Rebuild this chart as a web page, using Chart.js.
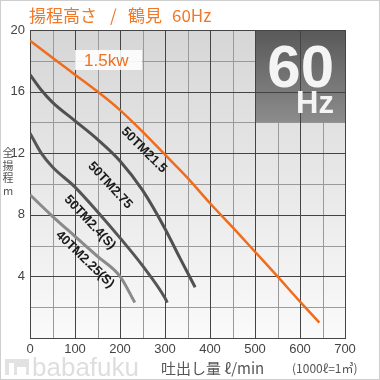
<!DOCTYPE html>
<html><head><meta charset="utf-8">
<script src="https://cdn.jsdelivr.net/npm/chart.js@4/dist/chart.umd.min.js"></script>
<style>html,body{margin:0;padding:0;background:#fff}canvas{display:block}</style>
</head><body>
<canvas id="c" width="380" height="380"></canvas>
<script>
// ---- data ----
const xTickLabels = [0,100,200,300,400,500,600,700];
const yTickLabels = [4,8,12,16,20];
const seriesNames = ['50TM21.5','50TM2.75','50TM2.4(S)','40TM2.25(S)'];
const flow21_5 = [0,50,100,150,200,250,300,350,400,450,500,550,600,643];
const head21_5 = [19.3,18.2,17.1,16.0,14.8,13.4,11.9,10.4,8.75,7.2,5.6,4.0,2.36,1.0];
const flow2_75 = [0,25,50,100,150,200,250,300,333,367];
const head2_75 = [17.1,16.1,15.3,14.1,12.9,11.5,9.6,7.1,5.2,3.3];
const flow2_4 = [0,25,50,100,150,200,250,300,305];
const head2_4 = [13.3,12.0,11.1,9.8,8.2,6.5,4.7,2.6,2.3];
const flow2_25 = [0,50,100,150,200,233];
const head2_25 = [9.3,7.9,6.6,5.3,4.0,2.3];
const titleParts = ['揚程高さ','/','鶴見','60Hz'];
const powerText = '1.5kw';
const freqText = ['60','Hz'];
const xTitle = '吐出し量 ℓ/min';
const xNote = '(1000ℓ=1㎥)';
const yTitle = ['全','揚','程','m'];

function pts(xs, ys){ return xs.map((x,i)=>({x:x, y:ys[i]})); }

const labelCfg = [
  {x:253, y:12.2, a:45},
  {x:178, y:9.9, a:47},
  {x:133, y:7.5, a:47},
  {x:122, y:5.1, a:44}
];
const titleX = [29,110,128,172];

function vline(ctx, x, y0, y1, w){ ctx.fillRect(Math.round(x), Math.round(y0), w, Math.round(y1-y0)+1); }
function hline(ctx, y, x0, x1, w){ ctx.fillRect(Math.round(x0), Math.round(y), Math.round(x1-x0)+1, w); }

function gridVals(min, max, step){ const v=[]; for(let t=min;t<=max+1e-9;t+=step) v.push(t); return v; }

function drawGrid(chart, major, y0, y1, x0, x1){
  const {ctx, chartArea:a} = chart;
  const xs = chart.scales.x, ys = chart.scales.y;
  const top = y0 ?? a.top, bottom = y1 ?? a.bottom, left = x0 ?? a.left, right = x1 ?? a.right;
  ctx.save();
  ctx.globalCompositeOperation = 'source-over';
  ctx.globalAlpha = 1;
  ctx.fillStyle = major ? '#444444' : '#9a9a9a';
  const w = 1;
  gridVals(xs.min, xs.max, 50).forEach(v=>{
    if ((v % 100 === 0) !== major) return;
    vline(ctx, xs.getPixelForValue(v), top, bottom, w);
  });
  gridVals(ys.min, ys.max, 2).forEach(v=>{
    if ((v % 4 === 0) !== major) return;
    hline(ctx, ys.getPixelForValue(v), left, right, w);
  });
  ctx.restore();
}

const deco = {
  id:'deco',
  beforeDraw(chart){
    const {ctx, chartArea:a} = chart;
    ctx.save();
    ctx.globalCompositeOperation = 'source-over';
    ctx.globalAlpha = 1;
    ctx.fillStyle = '#fff';
    ctx.fillRect(0,0,chart.width,chart.height);
    const g = ctx.createLinearGradient(0,a.top,0,a.bottom);
    g.addColorStop(0,'#d6d6d6');
    g.addColorStop(1,'#fafafa');
    ctx.fillStyle = g;
    ctx.fillRect(a.left,a.top,a.right-a.left,a.bottom-a.top);
    ctx.restore();
  },
  beforeDatasetsDraw(chart){
    const {ctx} = chart;
    const xs = chart.scales.x, ys = chart.scales.y;
    drawGrid(chart, false);
    drawGrid(chart, true);
    ctx.save();
    ctx.globalCompositeOperation = 'source-over';
    ctx.globalAlpha = 1;
    // Hz box
    const x0 = xs.getPixelForValue(500), x1 = xs.getPixelForValue(700);
    const y0 = ys.getPixelForValue(20), y1 = ys.getPixelForValue(14);
    const g = ctx.createLinearGradient(0,y0,0,y1);
    g.addColorStop(0,'#595959');
    g.addColorStop(1,'#8c8c8c');
    ctx.fillStyle = g;
    ctx.fillRect(x0,y0,x1-x0,y1-y0);
    ctx.restore();
    drawGrid(chart, true, y0, y1, x0, x1);
    ctx.save();
    ctx.globalCompositeOperation = 'source-over';
    ctx.globalAlpha = 1;
    ctx.fillStyle = '#f4f4f4';
    ctx.textAlign = 'right';
    ctx.textBaseline = 'alphabetic';
    ctx.font = 'bold 60px "Liberation Sans", Arial, sans-serif';
    ctx.fillText(freqText[0], 334, 87);
    ctx.font = 'bold 31px "Liberation Sans", Arial, sans-serif';
    ctx.fillText(freqText[1], 334, 113);
    ctx.restore();
  },
  afterDatasetsDraw(chart){
    const {ctx} = chart;
    const xs = chart.scales.x, ys = chart.scales.y;
    ctx.save();
    ctx.globalCompositeOperation = 'source-over';
    ctx.globalAlpha = 1;
    // power box
    ctx.fillStyle = 'rgba(255,255,255,0.88)';
    ctx.fillRect(75,50,67,20);
    ctx.fillStyle = '#f07020';
    ctx.font = '17px "Liberation Sans", Arial, sans-serif';
    ctx.textAlign = 'left';
    ctx.textBaseline = 'alphabetic';
    ctx.fillText(powerText, 84, 66);
    // curve labels
    ctx.fillStyle = '#1a1a1a';
    ctx.font = 'bold 13px "Liberation Sans", Arial, sans-serif';
    ctx.textAlign = 'center';
    ctx.textBaseline = 'middle';
    seriesNames.forEach((n,i)=>{
      const c = labelCfg[i];
      ctx.save();
      ctx.translate(xs.getPixelForValue(c.x), ys.getPixelForValue(c.y));
      ctx.rotate(c.a*Math.PI/180);
      ctx.fillText(n,0,0);
      ctx.restore();
    });
    // title
    ctx.fillStyle = '#f07828';
    ctx.font = '17px "Noto Sans CJK JP", sans-serif';
    ctx.textAlign = 'left';
    ctx.textBaseline = 'alphabetic';
    titleParts.forEach((t,i)=>ctx.fillText(t, titleX[i], 22));
    // x title
    ctx.fillStyle = '#555';
    ctx.font = '15px "Noto Sans CJK JP", sans-serif';
    ctx.textBaseline = 'middle';
    ctx.fillText(xTitle, 161, 368);
    ctx.font = '12px "Noto Sans CJK JP", sans-serif';
    ctx.fillText(xNote, 292, 368);
    // y title
    ctx.font = '11px "Noto Sans CJK JP", sans-serif';
    ctx.textAlign = 'center';
    const yy = [153,166,178,191];
    yTitle.forEach((ch,i)=>ctx.fillText(ch, 8, yy[i]));
    // watermark
    ctx.fillStyle = '#e2e2e2';
    ctx.fillRect(5,359,24,16);
    ctx.fillStyle = '#fff';
    ctx.fillRect(9,363,5,12);
    ctx.fillRect(17,367,9,8);
    ctx.fillStyle = '#dedede';
    ctx.font = '26px "Liberation Sans", Arial, sans-serif';
    ctx.textAlign = 'left';
    ctx.textBaseline = 'alphabetic';
    ctx.fillText('babafuku', 32, 376);
    ctx.fillStyle = '#cfcfcf';
    ctx.fillRect(0,0,chart.width,1);
    ctx.fillRect(0,chart.height-1,chart.width,1);
    ctx.fillRect(0,0,1,chart.height);
    ctx.fillRect(chart.width-1,0,1,chart.height);
    ctx.restore();
  }
};

const ds = (label, xs, ys, color, w) => ({
  label, data: pts(xs, ys), borderColor: color, borderWidth: w,
  pointRadius: 0, fill: false, cubicInterpolationMode: 'monotone', borderCapStyle:'butt'
});

new Chart(document.getElementById('c'), {
  type: 'line',
  data: {
    datasets: [
      ds(seriesNames[1], flow2_75, head2_75, '#505050', 3),
      ds(seriesNames[2], flow2_4, head2_4, '#555555', 3),
      ds(seriesNames[3], flow2_25, head2_25, '#8a8a8a', 3),
      ds(seriesNames[0], flow21_5, head21_5, '#ef6c1c', 2.5)
    ]
  },
  options: {
    responsive: false,
    animation: false,
    devicePixelRatio: 1,
    layout: { padding: { left: 0, right: 35, top: 30, bottom: 0 } },
    plugins: { legend: { display: false }, title: { display: false }, tooltip: { enabled: false } },
    scales: {
      x: {
        type: 'linear', min: 0, max: 700,
        afterFit(s){ s.height = 42; },
        grid: { display: false, drawTicks: false },
        border: { display: false },
        ticks: {
          stepSize: 50, padding: 4, color: '#444', maxRotation: 0, autoSkip: false,
          font: { family: '"Liberation Sans", Arial, sans-serif', size: 13 },
          callback: v => xTickLabels.includes(v) ? String(v) : ''
        }
      },
      y: {
        type: 'linear', min: 0, max: 20,
        afterFit(s){ s.width = 30; },
        grid: { display: false, drawTicks: false },
        border: { display: false },
        ticks: {
          stepSize: 2, padding: 5, color: '#444', autoSkip: false,
          font: { family: '"Liberation Sans", Arial, sans-serif', size: 13 },
          callback: v => yTickLabels.includes(v) ? String(v) : ''
        }
      }
    }
  },
  plugins: [deco]
});
</script>
</body></html>
